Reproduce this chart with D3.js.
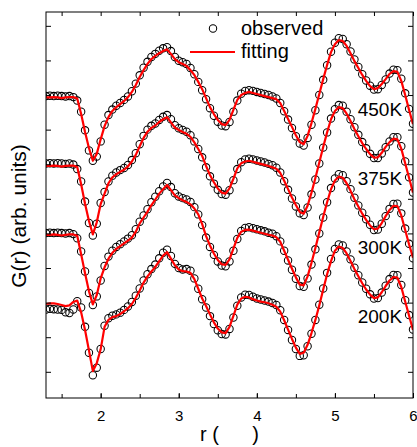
<!DOCTYPE html>
<html><head><meta charset="utf-8">
<script src="https://cdn.jsdelivr.net/npm/d3@7"></script>
<style>
body{margin:0;background:#fff}
svg{display:block}
text{font-family:"Liberation Sans",Arial,Helvetica,sans-serif;fill:#000}
</style>
</head><body>
<svg id="chart" width="417" height="447"></svg>
<script>
// ---------- data ----------
const r = [1.30,1.35,1.40,1.45,1.50,1.55,1.60,1.65,1.70,1.75,
1.80,1.85,1.90,1.95,2.00,2.05,2.10,2.15,2.20,2.25,
2.30,2.35,2.40,2.45,2.50,2.55,2.60,2.65,2.70,2.75,
2.80,2.85,2.90,2.95,3.00,3.05,3.10,3.15,3.20,3.25,
3.30,3.35,3.40,3.45,3.50,3.55,3.60,3.65,3.70,3.75,
3.80,3.85,3.90,3.95,4.00,4.05,4.10,4.15,4.20,4.25,
4.30,4.35,4.40,4.45,4.50,4.55,4.60,4.65,4.70,4.75,
4.80,4.85,4.90,4.95,5.00,5.05,5.10,5.15,5.20,5.25,
5.30,5.35,5.40,5.45,5.50,5.55,5.60,5.65,5.70,5.75,
5.80,5.85,5.90,5.95,6.00];

const temperatures = ["200K","300K","375K","450K"];
const offsets = [0, 2, 4, 6];

const obs200 = [1.80,1.82,1.81,1.80,1.79,1.72,1.70,1.80,2.04,1.86,
1.30,0.55,-0.10,0.12,0.66,1.33,1.55,1.62,1.66,1.71,
1.79,1.89,2.02,2.20,2.41,2.64,2.82,2.97,3.10,3.28,
3.44,3.53,3.35,3.12,3.00,2.96,2.97,2.92,2.70,2.40,
2.10,1.86,1.61,1.38,1.20,1.09,1.08,1.24,1.57,1.91,
2.15,2.23,2.22,2.17,2.12,2.09,2.06,2.03,1.99,1.93,
1.78,1.50,1.21,0.92,0.66,0.46,0.48,0.74,1.10,1.50,
1.94,2.41,2.86,3.26,3.55,3.68,3.65,3.48,3.25,3.01,
2.79,2.58,2.40,2.24,2.12,2.13,2.29,2.49,2.68,2.80,
2.79,2.51,2.07,1.64,1.22];
const fit200 = [1.96,1.98,1.98,1.96,1.93,1.90,1.92,2.02,2.06,1.72,
1.21,0.62,0.02,0.25,0.65,1.30,1.50,1.58,1.61,1.67,
1.75,1.84,1.96,2.14,2.35,2.58,2.76,2.90,3.03,3.20,
3.36,3.46,3.27,3.08,2.96,2.91,2.90,2.86,2.68,2.40,
2.12,1.90,1.66,1.43,1.25,1.14,1.12,1.30,1.62,1.94,
2.12,2.17,2.15,2.10,2.06,2.03,2.01,1.98,1.94,1.88,
1.74,1.49,1.22,0.95,0.70,0.52,0.55,0.78,1.12,1.50,
1.92,2.38,2.82,3.20,3.50,3.62,3.58,3.42,3.20,2.97,
2.76,2.56,2.38,2.23,2.13,2.15,2.30,2.48,2.64,2.74,
2.72,2.45,2.03,1.62,1.21];

const obs300 = [2.01,2.02,2.01,2.02,2.01,2.00,2.01,1.98,1.86,1.48,
0.90,0.28,-0.07,0.18,0.64,1.06,1.33,1.50,1.61,1.69,
1.77,1.85,1.95,2.12,2.34,2.52,2.70,2.90,3.06,3.22,
3.36,3.46,3.34,3.16,3.07,3.02,2.98,2.91,2.76,2.55,
2.24,1.88,1.61,1.38,1.19,1.07,1.05,1.19,1.50,1.84,
2.07,2.16,2.18,2.15,2.12,2.09,2.06,2.02,1.99,1.92,
1.77,1.50,1.22,0.95,0.69,0.48,0.46,0.70,1.10,1.54,
2.00,2.46,2.90,3.31,3.59,3.71,3.68,3.51,3.28,3.03,
2.81,2.60,2.41,2.25,2.10,2.11,2.28,2.50,2.71,2.85,
2.86,2.58,2.14,1.70,1.28];
const fit300 = [1.96,1.96,1.97,1.96,1.94,1.96,1.97,1.97,1.93,1.40,
0.85,0.33,-0.05,0.22,0.70,1.02,1.27,1.44,1.55,1.63,
1.71,1.79,1.88,2.05,2.29,2.46,2.63,2.82,2.98,3.15,
3.28,3.40,3.25,3.10,3.02,2.96,2.91,2.84,2.72,2.55,
2.27,1.92,1.65,1.42,1.23,1.11,1.09,1.25,1.56,1.87,
2.05,2.10,2.11,2.08,2.05,2.02,1.99,1.96,1.94,1.89,
1.76,1.50,1.24,0.98,0.73,0.52,0.50,0.76,1.15,1.58,
2.03,2.48,2.90,3.28,3.53,3.64,3.61,3.45,3.23,2.99,
2.78,2.57,2.39,2.23,2.12,2.14,2.30,2.50,2.68,2.80,
2.79,2.52,2.10,1.68,1.30];

const obs375 = [2.02,2.03,2.02,2.03,2.02,2.01,2.02,1.99,1.86,1.50,
0.92,0.30,-0.06,0.28,0.88,1.20,1.50,1.67,1.76,1.83,
1.89,1.98,2.12,2.32,2.58,2.82,3.00,3.11,3.18,3.28,
3.37,3.42,3.30,3.13,3.04,2.99,2.94,2.84,2.66,2.44,
2.20,1.91,1.65,1.44,1.26,1.14,1.12,1.25,1.54,1.86,
2.06,2.14,2.16,2.14,2.11,2.08,2.05,2.01,1.97,1.90,
1.76,1.51,1.26,1.01,0.78,0.58,0.53,0.75,1.13,1.56,
2.02,2.48,2.92,3.32,3.59,3.71,3.69,3.52,3.30,3.07,
2.85,2.64,2.46,2.30,2.18,2.18,2.31,2.49,2.66,2.78,
2.78,2.52,2.08,1.62,1.18];
const fit375 = [1.95,1.95,1.96,1.95,1.93,1.95,1.96,1.96,1.92,1.42,
0.86,0.36,-0.03,0.32,0.85,1.15,1.45,1.62,1.71,1.78,
1.84,1.94,2.08,2.27,2.52,2.76,2.94,3.05,3.12,3.22,
3.30,3.36,3.21,3.06,2.99,2.93,2.88,2.79,2.63,2.44,
2.24,1.95,1.69,1.48,1.30,1.18,1.15,1.30,1.58,1.88,
2.03,2.08,2.10,2.07,2.04,2.01,1.98,1.95,1.91,1.87,
1.75,1.52,1.28,1.04,0.82,0.62,0.57,0.80,1.18,1.60,
2.05,2.50,2.92,3.30,3.54,3.65,3.62,3.46,3.25,3.02,
2.81,2.61,2.44,2.29,2.19,2.20,2.33,2.50,2.64,2.74,
2.72,2.45,2.03,1.60,1.18];

const obs450 = [1.97,1.98,1.97,1.98,1.97,1.96,1.97,1.94,1.84,1.52,
0.98,0.40,0.10,0.22,0.66,1.14,1.42,1.58,1.69,1.77,
1.86,1.96,2.11,2.33,2.57,2.79,2.96,3.10,3.19,3.28,
3.35,3.38,3.27,3.10,2.99,2.95,2.90,2.78,2.60,2.38,
2.14,1.88,1.62,1.40,1.23,1.12,1.10,1.22,1.52,1.84,
2.04,2.12,2.14,2.12,2.09,2.06,2.03,2.00,1.96,1.90,
1.77,1.53,1.29,1.05,0.81,0.60,0.54,0.76,1.14,1.56,
2.00,2.44,2.86,3.25,3.51,3.64,3.62,3.47,3.26,3.03,
2.81,2.60,2.42,2.27,2.16,2.17,2.29,2.45,2.62,2.73,
2.72,2.47,2.05,1.60,1.17];
const fit450 = [1.93,1.93,1.94,1.93,1.91,1.93,1.94,1.94,1.90,1.45,
0.93,0.47,0.10,0.30,0.72,1.10,1.36,1.54,1.65,1.74,
1.83,1.94,2.09,2.29,2.52,2.72,2.90,3.04,3.13,3.21,
3.27,3.32,3.19,3.04,2.95,2.90,2.84,2.72,2.58,2.38,
2.17,1.91,1.65,1.45,1.28,1.16,1.13,1.28,1.57,1.86,
2.00,2.06,2.09,2.06,2.03,2.00,1.97,1.94,1.91,1.88,
1.77,1.54,1.31,1.08,0.84,0.64,0.58,0.82,1.19,1.60,
2.03,2.46,2.87,3.24,3.47,3.59,3.56,3.42,3.21,2.98,
2.78,2.58,2.41,2.26,2.17,2.20,2.32,2.46,2.61,2.69,
2.67,2.41,2.00,1.57,1.16];

const observedSeries = [obs200, obs300, obs375, obs450];
const fittedSeries = [fit200, fit300, fit375, fit450];

const xMajorTicks = [2, 3, 4, 5, 6];
const xAllTicks = [1.5, 2, 2.5, 3, 3.5, 4, 4.5, 5, 5.5, 6];
const yTicks = [0, 1, 2, 3, 4, 5, 6, 7, 8, 9, 10];
const legendLabels = ["observed", "fitting"];
const xTitle = "r (\u00a0\u00a0\u00a0\u00a0\u00a0\u00a0)";
const yTitle = "G(r) (arb. units)";

// ---------- layout ----------
const svg = d3.select("#chart");
const L = 46, R = 413, T = 12, B = 398;
const x = d3.scaleLinear().domain([1.3, 6.0]).range([L, R]);
const y = d3.scaleLinear().domain([-0.757, 10.40]).range([B, T]);

svg.append("defs").append("clipPath").attr("id", "plotclip")
  .append("rect").attr("x", L).attr("y", T).attr("width", R - L).attr("height", B - T);

const plot = svg.append("g").attr("clip-path", "url(#plotclip)");

// observed circles
observedSeries.forEach((vals, i) => {
  plot.append("g").selectAll("circle")
    .data(vals.map((v, k) => [r[k], v + offsets[i]]))
    .join("circle")
    .attr("cx", d => x(d[0]))
    .attr("cy", d => y(d[1]))
    .attr("r", 3.7)
    .attr("fill", "none")
    .attr("stroke", "#000")
    .attr("stroke-width", 1.05);
});

// fitted lines
const line = d3.line().x(d => x(d[0])).y(d => y(d[1]));
fittedSeries.forEach((vals, i) => {
  plot.append("path")
    .datum(vals.map((v, k) => [r[k], v + offsets[i]]))
    .attr("d", line)
    .attr("fill", "none")
    .attr("stroke", "#ff0000")
    .attr("stroke-width", 2.2)
    .attr("stroke-linejoin", "round");
});

// temperature labels
temperatures.forEach((t, i) => {
  svg.append("text")
    .attr("x", x(5.86))
    .attr("y", y(offsets[i] + 1.4))
    .attr("text-anchor", "end")
    .style("font-size", "19px")
    .text(t);
});

// axes
function styleAxis(g) {
  g.select(".domain").remove();
  g.selectAll("line").attr("stroke", "#000");
}
svg.append("g").attr("transform", `translate(0,${B})`)
  .call(d3.axisBottom(x).tickValues(xAllTicks).tickSize(-4).tickFormat(""))
  .call(styleAxis);
svg.append("g").attr("transform", `translate(0,${B})`)
  .call(d3.axisBottom(x).tickValues(xMajorTicks).tickSize(-5).tickPadding(12).tickFormat(d3.format("d")))
  .call(styleAxis)
  .selectAll("text").style("font-size", "15px").attr("fill", "#000");
svg.append("g").attr("transform", `translate(0,${T})`)
  .call(d3.axisTop(x).tickValues(xAllTicks).tickSize(-4).tickFormat(""))
  .call(styleAxis);
svg.append("g").attr("transform", `translate(${L},0)`)
  .call(d3.axisLeft(y).tickValues(yTicks).tickSize(-5).tickFormat(""))
  .call(styleAxis);
svg.append("g").attr("transform", `translate(${R},0)`)
  .call(d3.axisRight(y).tickValues(yTicks).tickSize(-5).tickFormat(""))
  .call(styleAxis);

svg.append("rect").attr("x", L).attr("y", T).attr("width", R - L).attr("height", B - T)
  .attr("fill", "none").attr("stroke", "#000").attr("stroke-width", 1);

// titles
svg.append("text")
  .attr("x", (L + R) / 2).attr("y", 441)
  .attr("text-anchor", "middle")
  .style("font-size", "20px")
  .style("white-space", "pre")
  .text(xTitle);
svg.append("text")
  .attr("transform", `translate(26,216) rotate(-90)`)
  .attr("text-anchor", "middle")
  .style("font-size", "21px")
  .text(yTitle);

// legend
const lg = svg.append("g");
lg.append("circle").attr("cx", 213).attr("cy", 28.5).attr("r", 3.7)
  .attr("fill", "none").attr("stroke", "#000").attr("stroke-width", 1.05);
lg.append("line").attr("x1", 190).attr("x2", 235).attr("y1", 52).attr("y2", 52)
  .attr("stroke", "#ff0000").attr("stroke-width", 2.2);
lg.append("text").attr("x", 241).attr("y", 35).style("font-size", "20px").text(legendLabels[0]);
lg.append("text").attr("x", 241).attr("y", 58).style("font-size", "20px").text(legendLabels[1]);
</script>
</body></html>
